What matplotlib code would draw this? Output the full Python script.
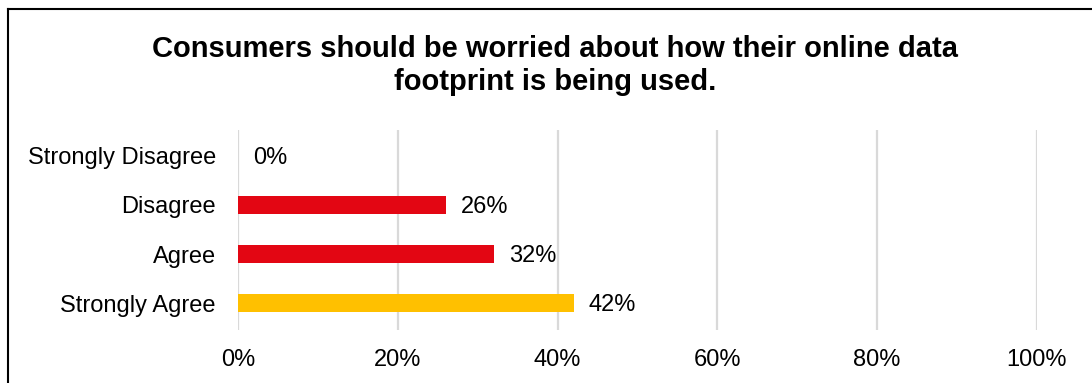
import numpy as np
import matplotlib.pyplot as plt
from matplotlib.lines import Line2D

plt.rcParams['font.family'] = ['Liberation Sans', 'DejaVu Sans']

# data
categories = ["Strongly Disagree", "Disagree", "Agree", "Strongly Agree"]
values = [0, 26, 32, 42]
colors = ["#E30613", "#E30613", "#E30613", "#FFC000"]
title = "Consumers should be worried about how their online data\nfootprint is being used."

fig = plt.figure(figsize=(10.92, 3.83), dpi=100)
ax = fig.add_axes([0.218, 0.1384, 0.7316, 0.5222])

y = np.arange(len(categories))[::-1]
bars = ax.barh(y, values, height=0.35, color=colors, zorder=3)
for rect, v in zip(bars, values):
    ax.annotate(f"{v}%", (rect.get_width(), rect.get_y() + rect.get_height() / 2),
                xytext=(11, -1.5), textcoords='offset points', va='center', ha='left',
                fontsize=17, color='black')

ax.set_xlim(0, 100)
ax.set_ylim(-0.55, 3.53)
ax.set_xticks(np.arange(0, 101, 20))
ax.set_xticklabels([f"{t}%" for t in range(0, 101, 20)])
ax.set_yticks(y)
ax.set_yticklabels(categories)
ax.tick_params(axis='both', length=0, labelsize=17, colors='black')
ax.tick_params(axis='x', pad=14)
ax.tick_params(axis='y', pad=16)
ax.grid(axis='x', color='#D9D9D9', linewidth=1.6, zorder=0)
for s in ax.spines.values():
    s.set_visible(False)

fig.text(0.508, 0.828, title, ha='center', va='center', fontsize=21,
         fontweight='bold', linespacing=1.22)

# outer border (cropped at right/bottom)
fig.add_artist(Line2D([8 / 1092, 8 / 1092], [0, 1 - 9 / 383], transform=fig.transFigure,
                      color='black', linewidth=1.5))
fig.add_artist(Line2D([8 / 1092, 1], [1 - 9 / 383, 1 - 9 / 383], transform=fig.transFigure,
                      color='black', linewidth=1.5))

plt.savefig("out.png", dpi=100)
